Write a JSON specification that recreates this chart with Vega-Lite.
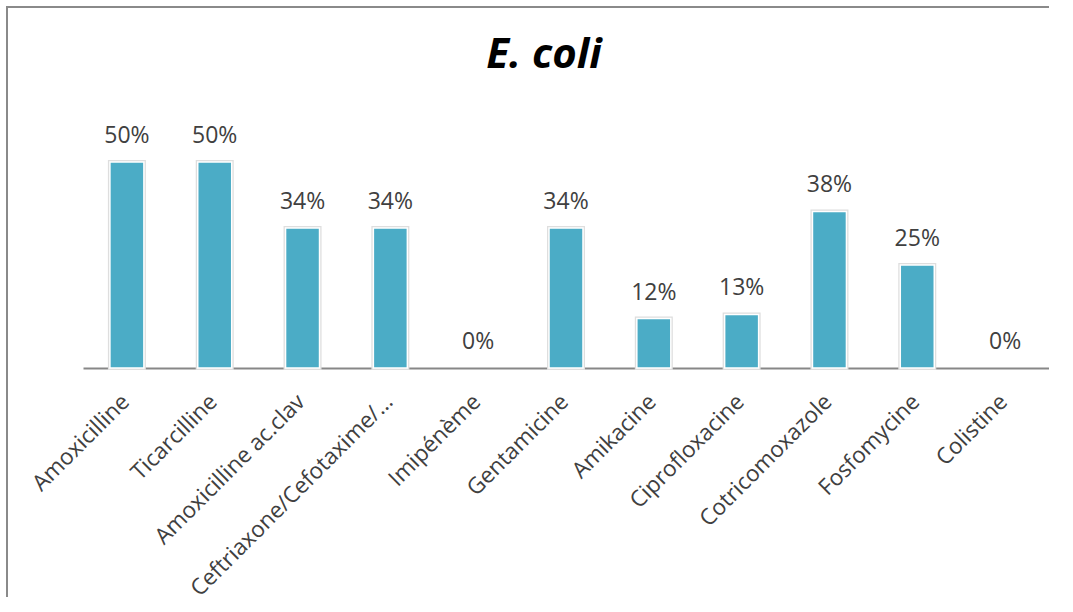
{
  "$schema": "https://vega.github.io/schema/vega-lite/v6.json",
  "autosize": {"type": "none"},
  "width": 1042,
  "height": 590,
  "padding": {"left": 7, "top": 7, "right": 0, "bottom": 0},
  "background": "white",
  "title": {
    "text": "E. coli",
    "font": "Open Sans",
    "fontSize": 42,
    "fontWeight": "bold",
    "fontStyle": "italic",
    "color": "#000000",
    "anchor": "start",
    "align": "center",
    "baseline": "alphabetic",
    "offset": 0,
    "dx": 537,
    "dy": 103
  },
  "config": {
    "view": {"stroke": "#8a8a8a", "strokeWidth": 2, "strokeDash": [1042, 1632, 590]},
    "font": "Open Sans"
  },
  "data": {
    "values": [
      {"antibiotique": "Amoxicilline", "taux": 0.50},
      {"antibiotique": "Ticarcilline", "taux": 0.50},
      {"antibiotique": "Amoxicilline ac.clav", "taux": 0.34},
      {"antibiotique": "Ceftriaxone/Cefotaxime/…", "taux": 0.34},
      {"antibiotique": "Imipénème", "taux": 0.0},
      {"antibiotique": "Gentamicine", "taux": 0.34},
      {"antibiotique": "Amikacine", "taux": 0.12},
      {"antibiotique": "Ciprofloxacine", "taux": 0.13},
      {"antibiotique": "Cotricomoxazole", "taux": 0.38},
      {"antibiotique": "Fosfomycine", "taux": 0.25},
      {"antibiotique": "Colistine", "taux": 0.0}
    ]
  },
  "encoding": {
    "x": {
      "field": "antibiotique",
      "type": "nominal",
      "sort": ["Amoxicilline", "Ticarcilline", "Amoxicilline ac.clav", "Ceftriaxone/Cefotaxime/…", "Imipénème", "Gentamicine", "Amikacine", "Ciprofloxacine", "Cotricomoxazole", "Fosfomycine", "Colistine"],
      "scale": {"range": [76, 1042], "paddingInner": 0.613, "paddingOuter": 0.3065},
      "axis": {
        "title": null,
        "orient": "bottom",
        "offset": -229,
        "domainColor": "#878787",
        "domainWidth": 2,
        "ticks": false,
        "labelAngle": -45,
        "labelAlign": "right",
        "labelBaseline": "top",
        "labelPadding": 22,
        "labelOffset": -9,
        "labelFont": "Open Sans",
        "labelFontSize": 22.5,
        "labelColor": "#404040",
        "labelLimit": 400,
        "labelOverlap": false
      }
    },
    "y": {
      "field": "taux",
      "type": "quantitative",
      "scale": {"domain": [0, 0.5], "range": [361, 155], "nice": false, "zero": true},
      "axis": null
    }
  },
  "layer": [
    {
      "transform": [{"filter": "datum.taux > 0"}],
      "mark": {"type": "bar", "fill": "#d4d4d4", "stroke": "#dedede", "strokeWidth": 4}
    },
    {
      "transform": [{"filter": "datum.taux > 0"}],
      "mark": {"type": "bar", "fill": "#4BACC6", "stroke": "#ffffff", "strokeWidth": 1.5}
    },
    {
      "mark": {"type": "text", "baseline": "alphabetic", "dy": -19, "font": "Open Sans", "fontSize": 23, "color": "#404040"},
      "encoding": {
        "text": {"field": "taux", "type": "quantitative", "format": ".0%"}
      }
    }
  ]
}
